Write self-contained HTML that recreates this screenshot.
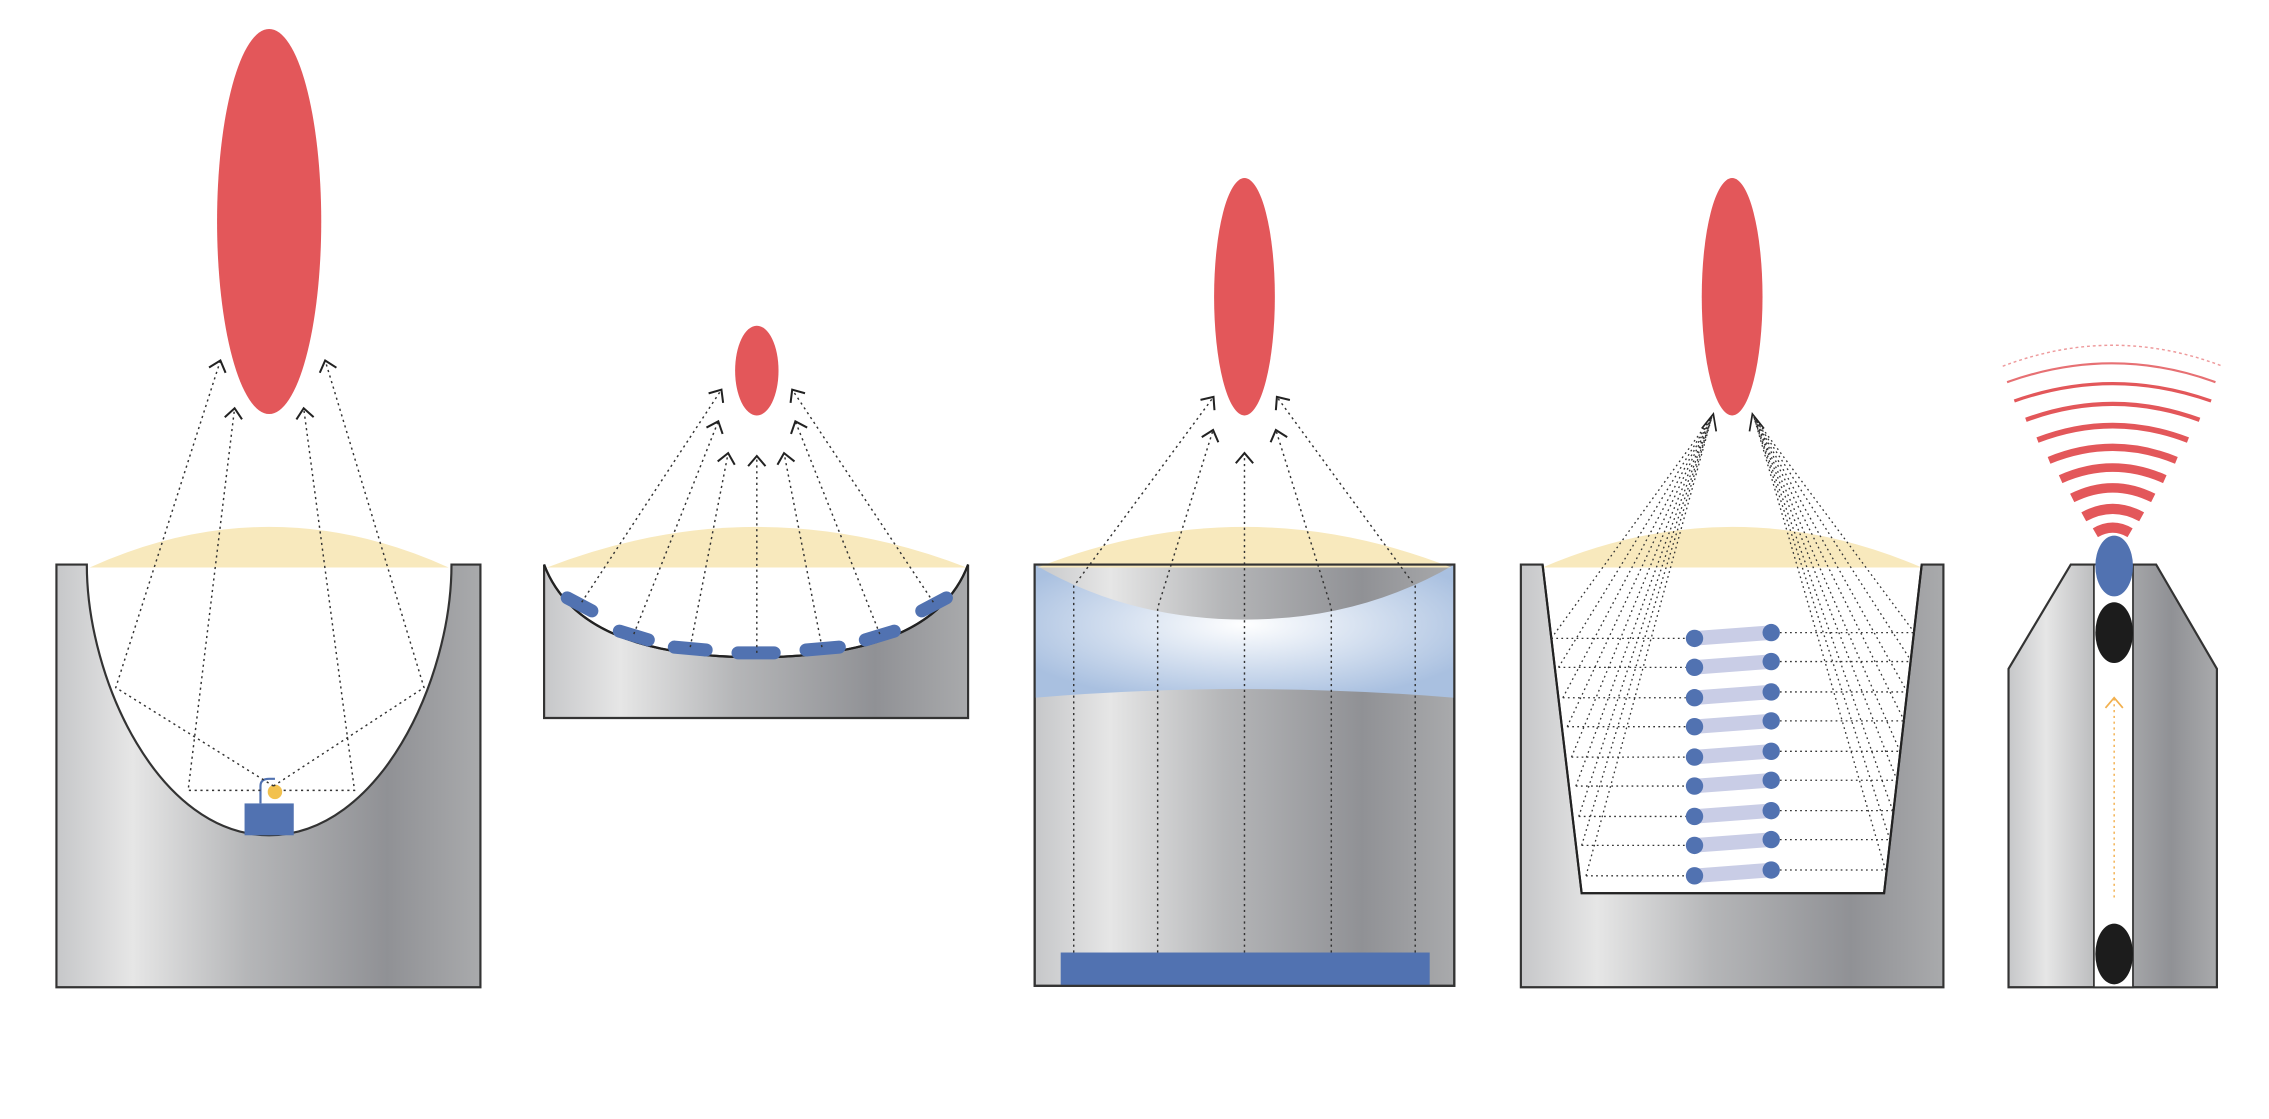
<!DOCTYPE html>
<html><head><meta charset="utf-8"><style>html,body{margin:0;padding:0;background:#fff}svg{display:block}</style></head>
<body>
<svg width="2269" height="1119" viewBox="0 0 1568 773" preserveAspectRatio="none" xmlns="http://www.w3.org/2000/svg">
<defs>
<linearGradient id="g" x1="0" x2="1" y1="0" y2="0">
<stop offset="0" stop-color="#c6c7c9"/><stop offset="0.18" stop-color="#e6e6e6"/><stop offset="0.45" stop-color="#b5b6b8"/><stop offset="0.78" stop-color="#909195"/><stop offset="1" stop-color="#a9aaac"/>
</linearGradient>
<radialGradient id="bl" cx="0.5" cy="0.45" r="0.6">
<stop offset="0" stop-color="#ffffff"/><stop offset="1" stop-color="#a9c0e0"/>
</radialGradient>
<marker id="ah" viewBox="0 0 14 14" refX="7" refY="7" markerWidth="14" markerHeight="14" orient="auto" markerUnits="userSpaceOnUse">
<path d="M1,1 L8,7 L1,13" fill="none" stroke="#222" stroke-width="1.4"/>
</marker>
</defs>

<!-- Panel 1 -->
<path d="M39,390 H60 C60,470 110,577 186,577 C262,577 312,470 312,390 H332 V682 H39 Z" fill="url(#g)" stroke="#333" stroke-width="1.5"/>
<path d="M62,392 Q186,336 310,392 Z" fill="#f8e9bd"/>
<rect x="169" y="555" width="34" height="22" fill="#5172b1"/>
<path d="M180,555 V543 Q180,538 186,538 H190" fill="none" stroke="#5172b1" stroke-width="1.5"/>
<circle cx="190" cy="547" r="5" fill="#f2c14e"/>
<ellipse cx="186" cy="153" rx="36" ry="133" fill="#e3575a"/>
<g fill="none" stroke="#333" stroke-width="1" stroke-dasharray="1.5,2.5">
<path d="M189,543 L80,475 L152,250" marker-end="url(#ah)"/>
<path d="M189,543 L293,475 L225,250" marker-end="url(#ah)"/>
<path d="M180,546 L130,546 L162,283" marker-end="url(#ah)"/>
<path d="M196,546 L245,546 L210,283" marker-end="url(#ah)"/>
</g>

<!-- Panel 2 -->
<path d="M376,390 Q400,454 522,454 Q645,454 669,390 V496 H376 Z" fill="url(#g)" stroke="#333" stroke-width="1.5"/>
<path d="M378,392 Q523,336 668,392 Z" fill="#f8e9bd"/>
<path d="M376,390 Q400,454 522,454 Q645,454 669,390" fill="none" stroke="#222" stroke-width="1.5"/>
<g stroke="#5172b1" stroke-width="9" stroke-linecap="round" fill="none">
<path d="M392,413 L409,422"/><path d="M428,436 L448,442"/><path d="M466,447 L488,449"/><path d="M510,451 L535,451"/><path d="M557,449 L580,447"/><path d="M598,442 L618,436"/><path d="M637,422 L654,413"/>
</g>
<ellipse cx="523" cy="256" rx="15" ry="31" fill="#e3575a"/>
<g fill="none" stroke="#333" stroke-width="1" stroke-dasharray="1.5,2.5">
<path d="M402,416 L498,270" marker-end="url(#ah)"/>
<path d="M438,438 L496,292" marker-end="url(#ah)"/>
<path d="M477,447 L503,314" marker-end="url(#ah)"/>
<path d="M523,451 L523,316" marker-end="url(#ah)"/>
<path d="M568,447 L542,314" marker-end="url(#ah)"/>
<path d="M608,438 L550,292" marker-end="url(#ah)"/>
<path d="M645,416 L548,270" marker-end="url(#ah)"/>
</g>

<!-- Panel 3 -->
<rect x="715" y="390" width="290" height="291" fill="url(#g)" stroke="#333" stroke-width="1.5"/>
<path d="M715,390 H1005 V482 Q860,470 715,482 Z" fill="url(#bl)"/>
<path d="M715,390 H1005 Q940,428 860,428 Q780,428 715,390 Z" fill="url(#g)"/>
<path d="M717,392 Q860,336 1003,392 Z" fill="#f8e9bd"/>
<rect x="733" y="658" width="255" height="23" fill="#5172b1"/>
<rect x="715" y="390" width="290" height="291" fill="none" stroke="#333" stroke-width="1.5"/>
<ellipse cx="860" cy="205" rx="21" ry="82" fill="#e3575a"/>
<g fill="none" stroke="#333" stroke-width="1" stroke-dasharray="1.5,2.5">
<path d="M742,658 L742,405 L838,275" marker-end="url(#ah)"/>
<path d="M800,658 L800,420 L838,298" marker-end="url(#ah)"/>
<path d="M860,658 L860,314" marker-end="url(#ah)"/>
<path d="M920,658 L920,420 L882,298" marker-end="url(#ah)"/>
<path d="M978,658 L978,405 L883,275" marker-end="url(#ah)"/>
</g>

<!-- Panel 4 -->
<path d="M1051,390 H1066 L1093,617 H1302 L1328,390 H1343 V682 H1051 Z" fill="url(#g)" stroke="#333" stroke-width="1.5"/>
<path d="M1066,392 Q1197,336 1328,392 Z" fill="#f8e9bd"/>
<path d="M1066,390 L1093,617 H1302 L1328,390" fill="none" stroke="#222" stroke-width="1.5"/>
<ellipse cx="1197" cy="205" rx="21" ry="82" fill="#e3575a"/>
<g fill="none" stroke="#333" stroke-width="0.9" stroke-dasharray="1.2,2.3">
<path d="M1072,441 H1165 M1077,461 H1165 M1080,482 H1165 M1083,502 H1165 M1086,523 H1165 M1089,543 H1165 M1091,564 H1165 M1093,584 H1165 M1096,605 H1165"/>
<path d="M1230,437 H1323 M1230,457 H1321 M1230,478 H1318 M1230,498 H1316 M1230,519 H1313 M1230,539 H1311 M1230,560 H1308 M1230,580 H1306 M1230,601 H1303"/>
<path d="M1072,441 L1183,288 M1077,461 L1183,288 M1080,482 L1183,288 M1083,502 L1183,288 M1086,523 L1183,288 M1089,543 L1183,288 M1091,564 L1183,288 M1093,584 L1183,288 M1096,605 L1183,288"/>
<path d="M1323,437 L1212,288 M1321,457 L1212,288 M1318,478 L1212,288 M1316,498 L1212,288 M1313,519 L1212,288 M1311,539 L1212,288 M1308,560 L1212,288 M1306,580 L1212,288 M1303,601 L1212,288"/>
</g>
<path d="M1176,296 L1184,286 L1186,298 M1219,296 L1211,286 L1209,298" fill="none" stroke="#222" stroke-width="1.2"/>
<g stroke="#c9cde6" stroke-width="10" stroke-linecap="round">
<path d="M1171,441 L1224,437"/><path d="M1171,461 L1224,457"/><path d="M1171,482 L1224,478"/><path d="M1171,502 L1224,498"/><path d="M1171,523 L1224,519"/><path d="M1171,543 L1224,539"/><path d="M1171,564 L1224,560"/><path d="M1171,584 L1224,580"/><path d="M1171,605 L1224,601"/>
</g>
<g fill="#5172b1">
<circle cx="1171" cy="441" r="6"/><circle cx="1224" cy="437" r="6"/>
<circle cx="1171" cy="461" r="6"/><circle cx="1224" cy="457" r="6"/>
<circle cx="1171" cy="482" r="6"/><circle cx="1224" cy="478" r="6"/>
<circle cx="1171" cy="502" r="6"/><circle cx="1224" cy="498" r="6"/>
<circle cx="1171" cy="523" r="6"/><circle cx="1224" cy="519" r="6"/>
<circle cx="1171" cy="543" r="6"/><circle cx="1224" cy="539" r="6"/>
<circle cx="1171" cy="564" r="6"/><circle cx="1224" cy="560" r="6"/>
<circle cx="1171" cy="584" r="6"/><circle cx="1224" cy="580" r="6"/>
<circle cx="1171" cy="605" r="6"/><circle cx="1224" cy="601" r="6"/>
</g>

<!-- Panel 5 -->
<path d="M1388,682 V462 L1431,390 H1490 L1532,462 V682 Z" fill="url(#g)" stroke="#333" stroke-width="1.5"/>
<rect x="1447" y="390" width="27" height="292" fill="#fff" stroke="#333" stroke-width="1.2"/>
<ellipse cx="1461" cy="437" rx="13" ry="21" fill="#1c1c1c"/>
<ellipse cx="1461" cy="659" rx="13" ry="21" fill="#1c1c1c"/>
<ellipse cx="1461" cy="391" rx="13" ry="21" fill="#5172b1"/>
<path d="M1461,620 V482" stroke="#f2b04e" stroke-width="1" stroke-dasharray="1.5,2.5"/>
<path d="M1455,489 L1461,482 L1467,489" fill="none" stroke="#f2b04e" stroke-width="1.2"/>
<g fill="none" stroke="#e3575a" stroke-linecap="butt">
<path d="M1448,368 Q1460,361 1472,368" stroke-width="7"/>
<path d="M1440,357 Q1460,346 1480,357" stroke-width="7"/>
<path d="M1432,344 Q1460,330 1488,344" stroke-width="6.5"/>
<path d="M1424,331 Q1460,315 1496,331" stroke-width="6"/>
<path d="M1416,318 Q1460,300 1504,318" stroke-width="5"/>
<path d="M1408,304 Q1460,284 1512,304" stroke-width="4"/>
<path d="M1400,290 Q1460,268 1520,290" stroke-width="3"/>
<path d="M1392,277 Q1460,253 1528,277" stroke-width="2.2"/>
<path d="M1387,264 Q1460,238 1531,264" stroke-width="1.5" opacity="0.85"/>
<path d="M1384,253 Q1460,224 1536,253" stroke-width="1" stroke-dasharray="2,2" opacity="0.6"/>
</g>
</svg>
</body></html>
